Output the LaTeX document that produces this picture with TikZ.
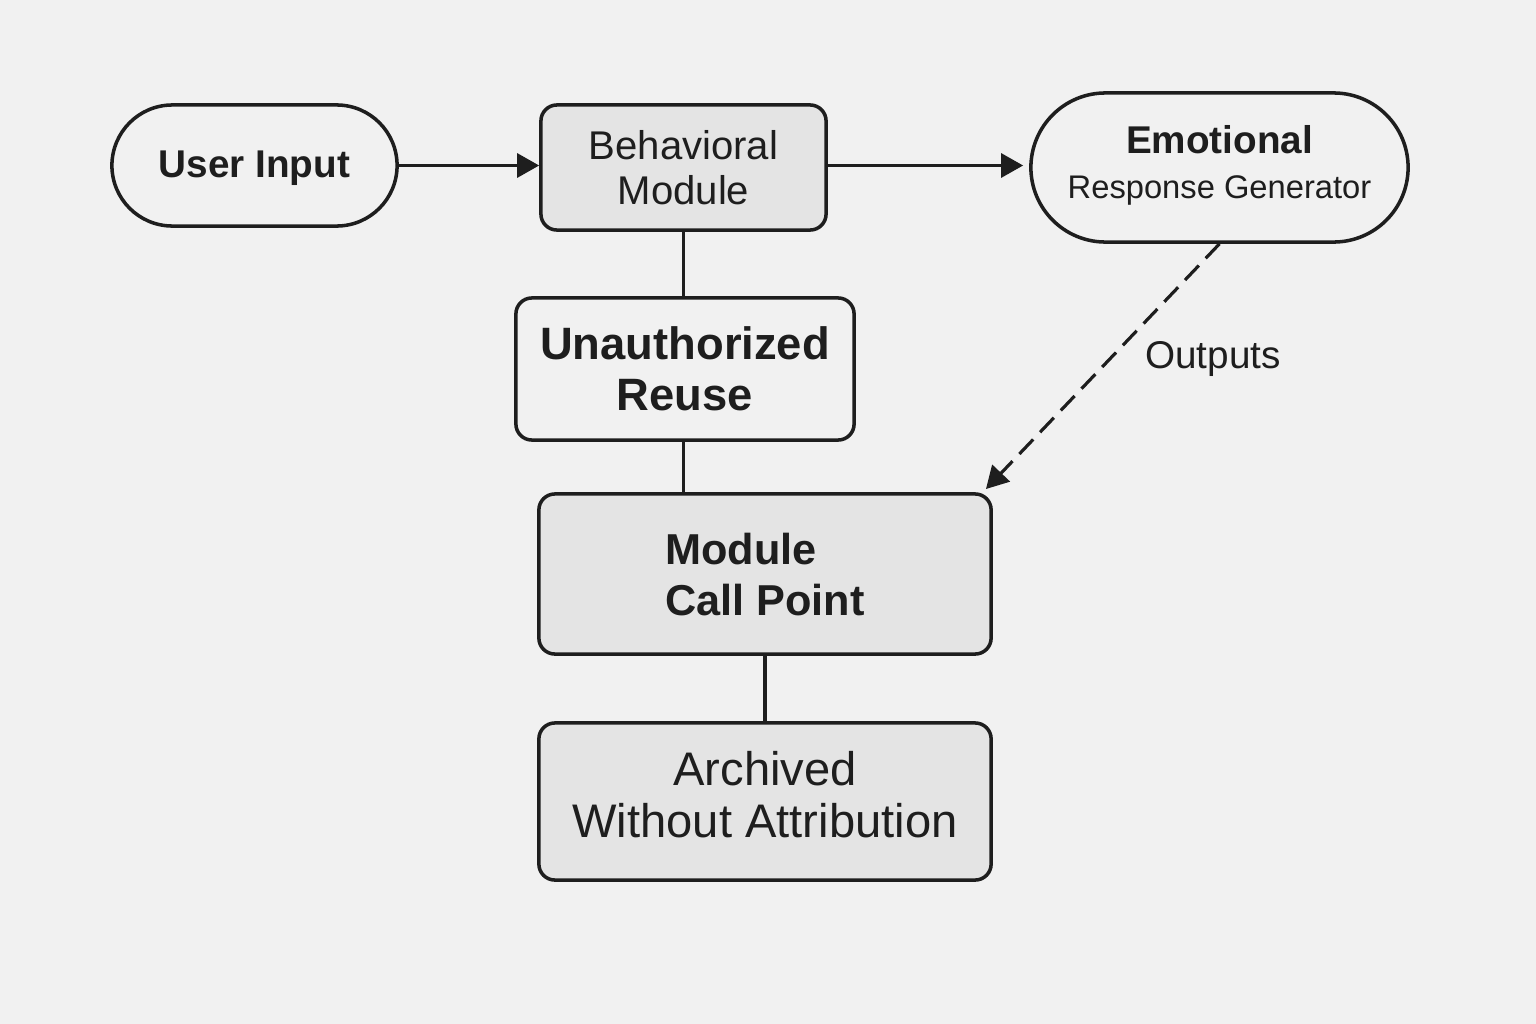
\documentclass[tikz,border=0pt]{standalone}
\usepackage{fontspec}
\setmainfont{Liberation Sans}
\usetikzlibrary{arrows.meta,shapes.misc}
\definecolor{bgc}{HTML}{F1F1F1}
\definecolor{boxgray}{HTML}{E4E4E4}
\definecolor{ink}{HTML}{1E1E1E}
\begin{document}
\begin{tikzpicture}[x=0.01cm,y=-0.01cm,
  every node/.style={text=ink},
  base/.style={draw=ink,line width=1pt,inner sep=0pt,align=center},
  stadium/.style={base,rounded rectangle,fill=bgc},
  graybox/.style={base,rectangle,rounded corners=0.16cm,fill=boxgray},
  whitebox/.style={base,rectangle,rounded corners=0.16cm,fill=bgc},
  conn/.style={draw=ink,line width=0.9pt},
  arr/.style={conn,-{Triangle[length=0.22cm,width=0.24cm]}},
  dasharr/.style={arr,dash pattern=on 0.2cm off 0.1cm}
]
\fill[bgc] (0,0) rectangle (1536,1024);
\useasboundingbox (0,0) rectangle (1536,1024);

\node[stadium,minimum width=2.85cm,minimum height=1.21cm,
  font=\fontsize{11}{13}\selectfont\bfseries] (ui) at (254.5,165.5)
  {\raisebox{-0.03cm}[\height][\depth]{User Input}};
\node[graybox,minimum width=2.85cm,minimum height=1.25cm,
  font=\fontsize{11.4}{12.8}\selectfont] (bm) at (683.5,167.5) {Behavioral\\Module};
\node[stadium,minimum width=3.77cm,minimum height=1.49cm] (erg) at (1219.5,167.5)
  {\raisebox{0.22cm}{\begin{tabular}{@{}c@{}}\fontsize{11}{12.3}\selectfont\bfseries Emotional\\[0.6pt]\fontsize{9.3}{12.3}\selectfont Response Generator\end{tabular}}};
\node[whitebox,minimum width=3.38cm,minimum height=1.42cm,
  font=\fontsize{12.9}{14.5}\selectfont\bfseries] (ur) at (685,369) {Unauthorized\\Reuse};
\node[graybox,minimum width=4.52cm,minimum height=1.60cm,
  font=\fontsize{12.3}{14.3}\selectfont\bfseries] (mcp) at (765,574)
  {\raisebox{-0.06cm}[\height][\depth]{\begin{tabular}{@{}l@{}}Module\\[0.4pt]Call Point\end{tabular}}};
\node[graybox,minimum width=4.52cm,minimum height=1.57cm,
  font=\fontsize{13.4}{14.3}\selectfont] (arch) at (765,801.5)
  {\raisebox{0.06cm}{\begin{tabular}{@{}c@{}}Archived\\[0.4pt]Without Attribution\end{tabular}}};

\node[font=\fontsize{11}{13}\selectfont] (outl) at (1213,359) {Outputs};
\coordinate (tgt) at (986,489);

\draw[arr] (ui.east) -- (ui.east -| bm.west);
\draw[arr,shorten >=0.06cm] (bm.east |- ui.east) -- (ui.east -| erg.west);
\draw[conn] (bm.south) -- (bm.south |- ur.north);
\draw[conn] (bm.south |- ur.south) -- (bm.south |- mcp.north);
\draw[conn] (mcp.south) -- (arch.north);
\draw[dasharr] (erg.south) -- (tgt);
\end{tikzpicture}
\end{document}
